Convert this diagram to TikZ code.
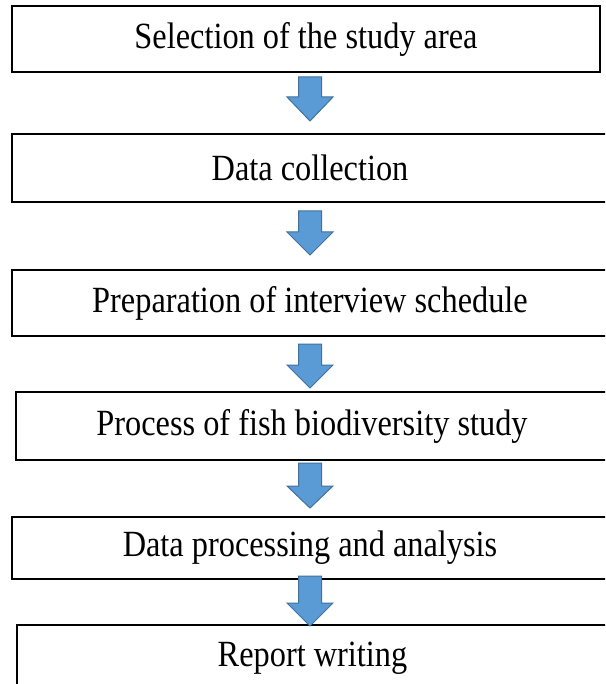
\documentclass[tikz,border=0pt]{standalone}
\usepackage{fontspec}
\setmainfont{Liberation Serif}
\definecolor{arrfill}{HTML}{5B9BD5}
\definecolor{arrdraw}{HTML}{41719C}
\newcommand\steptext[1]{\raisebox{-3.5pt}{\scalebox{0.98}[1.12]{#1}}}
\begin{document}
\begin{tikzpicture}[x=1pt,y=-1pt,
  stepbox/.style={draw=black,line width=1.7pt,fill=white,inner sep=0pt,
    font=\fontsize{33}{38}\selectfont},
  blockarrow/.style={fill=arrfill,draw=arrdraw,line width=1pt,line join=miter}]
\useasboundingbox (0,0) rectangle (605,684);
\clip (0,0) rectangle (605,684);
\fill[white] (0,0) rectangle (605,684);
\node[stepbox,minimum width=588pt,minimum height=66pt] (b1) at (306,39) {\steptext{Selection of the study area}};
\node[stepbox,minimum width=596pt,minimum height=68pt] (b2) at (310,168) {\steptext{Data collection}};
\node[stepbox,minimum width=596pt,minimum height=66pt] (b3) at (310,303) {\steptext{Preparation of interview schedule}};
\node[stepbox,minimum width=592pt,minimum height=68pt] (b4) at (312,426) {\steptext{Process of fish biodiversity study}};
\node[stepbox,minimum width=596pt,minimum height=62pt] (b5) at (310,548) {\steptext{Data processing and analysis}};
\node[stepbox,minimum width=591pt,minimum height=66pt] (b6) at (312.5,658) {\steptext{Report writing}};
\foreach \t/\w/\p in {77/97/121, 211/232/255, 344/365/388, 463/486/508, 576/603/626}{
  \draw[blockarrow] (298.5,\t) -- (321.5,\t) -- (321.5,\w) -- (333,\w) -- (310,\p)
    -- (287,\w) -- (298.5,\w) -- cycle;
}
\end{tikzpicture}
\end{document}
